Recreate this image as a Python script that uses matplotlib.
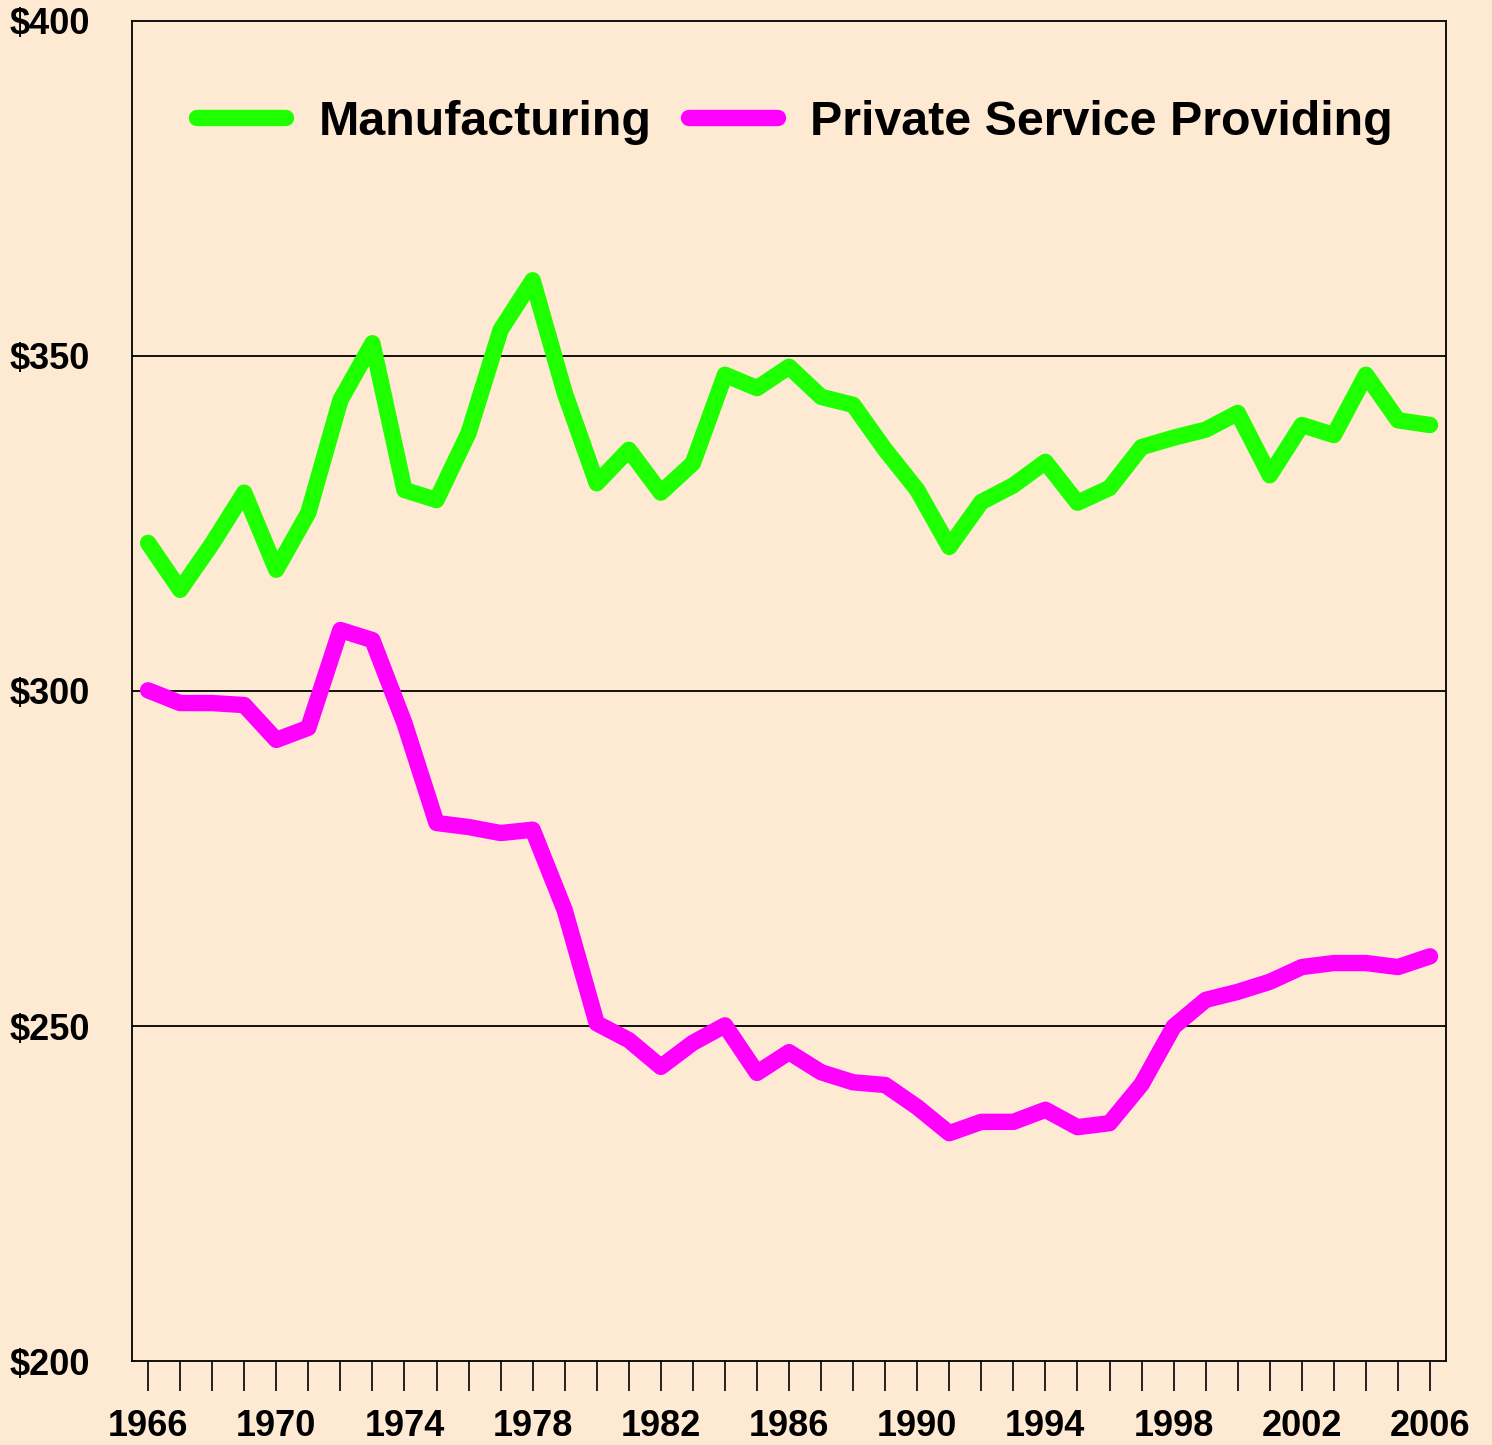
import numpy as np
import matplotlib
matplotlib.use('Agg')
import matplotlib.pyplot as plt

# Weekly earnings, 1966-2006
years = np.arange(1966, 2007)
manufacturing = [322.1, 315.1, 322.0, 329.6, 318.1, 326.6, 343.4, 351.9, 330.0, 328.5,
                 338.5, 353.9, 361.3, 344.5, 331.0, 336.0, 329.6, 334.0, 347.2, 345.2,
                 348.4, 343.9, 342.7, 336.0, 330.0, 321.5, 328.2, 330.7, 334.2, 328.1,
                 330.3, 336.4, 337.8, 339.0, 341.5, 332.2, 339.7, 338.2, 347.2, 340.4,
                 339.7]
private_service = [300.1, 298.2, 298.2, 297.9, 292.7, 294.5, 309.1, 307.6, 295.2, 280.3,
                   279.7, 278.8, 279.3, 267.3, 250.4, 247.9, 243.9, 247.5, 250.1, 243.0,
                   246.1, 243.1, 241.6, 241.2, 237.9, 234.0, 235.7, 235.7, 237.5, 234.9,
                   235.5, 241.3, 249.9, 253.9, 255.1, 256.6, 258.8, 259.4, 259.4, 258.8,
                   260.4]
y_ticks = [200, 250, 300, 350, 400]
y_labels = ['$200', '$250', '$300', '$350', '$400']

bg = '#FEEAD3'
plt.rcParams['font.family'] = ['Liberation Sans', 'DejaVu Sans']
plt.rcParams['font.weight'] = 'bold'

fig = plt.figure(figsize=(14.92, 14.45), dpi=100, facecolor=bg)
ax = fig.add_axes([0.0885, 0.0581, 0.8807, 0.9274], facecolor=bg)

for y in [250, 300, 350]:
    ax.axhline(y, color='black', lw=1.3, zorder=1)

ax.plot(years, manufacturing, color='#1EFF00', lw=11.8, label='Manufacturing',
        solid_joinstyle='round', solid_capstyle='round', zorder=3)
ax.plot(years, private_service, color='#FF00FF', lw=11.8, label='Private Service Providing',
        solid_joinstyle='round', solid_capstyle='round', zorder=3)

ax.set_xlim(1965.5, 2006.5)
ax.set_ylim(200, 400)

ax.set_xticks(years)
ax.set_xticklabels([str(y) if (y - 1966) % 4 == 0 else '' for y in years], fontsize=26, fontweight='bold')
ax.tick_params(axis='x', direction='out', length=21.5, width=1.2, pad=13)

ax.set_yticks(y_ticks)
ax.set_yticklabels(y_labels, fontsize=26, fontweight='bold')
ax.tick_params(axis='y', length=0, pad=88)
for t in ax.get_yticklabels():
    t.set_horizontalalignment('left')

for s in ax.spines.values():
    s.set_linewidth(1.3)

leg = ax.legend(loc='center', bbox_to_anchor=(0.5045, 0.924), ncol=2, frameon=False,
                prop={'size': 34.8, 'weight': 'bold'}, handlelength=1.85,
                handletextpad=0.66, columnspacing=0.78)

fig.savefig('out.png', dpi=100, facecolor=bg)
